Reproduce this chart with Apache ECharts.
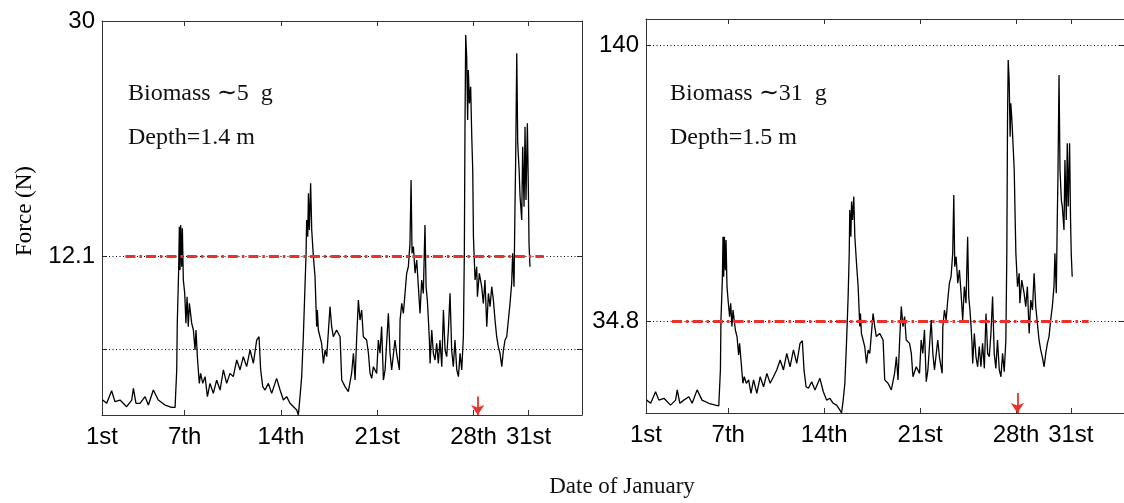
<!DOCTYPE html>
<html>
<head>
<meta charset="utf-8">
<script src="https://cdn.jsdelivr.net/npm/echarts@6/dist/echarts.min.js"></script>
<style>
  html, body { margin: 0; padding: 0; background: #fff; }
  #chart { width: 1124px; height: 503px; }
</style>
</head>
<body>
<div id="chart"></div>
<script>
// Elapsed days since 1 January (0 = 1st) and their tick labels
const tickDays = [0, 6, 13, 20, 27, 31];
const tickLabels = ['1st', '7th', '14th', '21st', '28th', '31st'];

// Sample times (days since 1st), shared by both records
const days = [
  0.05, 0.34, 0.70, 0.94, 1.31, 1.79, 2.16, 2.28, 2.47, 2.76,
  3.13, 3.37, 3.73, 4.09, 4.58, 5.06, 5.31, 5.43, 5.47, 5.57,
  5.62, 5.67, 5.72, 5.79, 5.84, 5.91, 6.01, 6.10, 6.18, 6.27,
  6.35, 6.52, 6.64, 6.76, 6.83, 6.93, 7.07, 7.17, 7.32, 7.49,
  7.66, 7.85, 8.09, 8.33, 8.58, 8.82, 9.06, 9.30, 9.54, 9.79,
  10.03, 10.27, 10.51, 10.76, 11.00, 11.24, 11.41, 11.53, 11.68, 11.85,
  12.09, 12.33, 12.69, 12.94, 13.18, 13.42, 13.66, 13.91, 14.15, 14.27,
  14.39, 14.51, 14.63, 14.75, 14.83, 14.87, 14.95, 15.00, 15.07, 15.16,
  15.24, 15.36, 15.48, 15.60, 15.65, 15.72, 15.84, 15.96, 16.09, 16.21,
  16.33, 16.57, 16.69, 16.81, 17.05,
  17.30, 17.42, 17.66, 17.90, 18.14, 18.27, 18.39, 18.51, 18.63, 18.75,
  18.87, 18.99, 19.23, 19.36, 19.48, 19.60, 19.72, 19.96, 20.08, 20.20,
  20.32, 20.45, 20.57, 20.81, 20.93, 21.05, 21.17, 21.29, 21.41, 21.61,
  21.66, 21.78, 21.90, 22.02, 22.14, 22.26, 22.38, 22.46, 22.53, 22.63,
  22.75, 22.87, 22.99, 23.11, 23.23, 23.35, 23.47, 23.55, 23.64, 23.72,
  23.79, 23.84, 23.96, 24.08, 24.20, 24.32, 24.44, 24.56, 24.69, 24.81,
  24.93, 25.05, 25.17, 25.29, 25.41, 25.53, 25.65, 25.78, 25.90, 26.02,
  26.14, 26.26, 26.33, 26.38, 26.43, 26.50, 26.57, 26.62, 26.70, 26.79,
  26.87, 26.94, 26.99, 27.11, 27.23, 27.28, 27.42, 27.59, 27.71, 27.83,
  27.96, 28.08, 28.20, 28.32, 28.44, 28.56, 28.68, 28.80, 28.92, 29.05,
  29.17, 29.29, 29.41, 29.53, 29.65, 29.77, 29.84, 29.94, 30.01, 30.06,
  30.14, 30.21, 30.31, 30.38, 30.50, 30.57, 30.67, 30.74, 30.81, 30.91,
  30.98, 31.03, 31.10
];

// Force (N), biomass ~5 g, depth 1.4 m
const forceSmall = [
  1.14, 0.89, 1.85, 1.02, 1.14, 0.63, 1.14, 2.03, 0.89, 0.89,
  1.40, 0.76, 1.90, 1.14, 0.76, 0.58, 0.58, 3.43, 6.98, 11.04,
  14.34, 11.04, 14.47, 11.29, 14.21, 10.28, 9.26, 6.98, 9.01, 6.73,
  8.50, 6.98, 6.47, 4.95, 6.47, 4.44, 2.41, 3.17, 2.41, 2.92,
  1.40, 2.41, 1.65, 2.66, 1.90, 3.43, 2.41, 3.17, 2.92, 4.19,
  3.43, 4.44, 3.68, 4.95, 3.93, 5.71, 5.96, 3.43, 2.16, 1.90,
  2.41, 1.65, 2.79, 1.90, 1.14, 1.40, 0.89, 0.63, 0.38, 0.00,
  1.40, 2.92, 5.96, 9.77, 12.31, 14.85, 13.58, 16.88, 14.09, 17.64,
  14.09, 12.06, 10.53, 6.73, 7.99, 6.47, 5.96, 5.46, 3.93, 4.95,
  4.44, 8.25, 6.73, 5.96, 6.47,
  5.96, 2.66, 2.16, 1.78, 3.17, 4.70, 2.66, 5.96, 8.76, 7.23,
  7.99, 5.96, 5.71, 4.70, 3.17, 2.79, 3.68, 3.17, 5.71, 4.70,
  6.73, 2.66, 3.43, 7.74, 4.70, 3.43, 3.43, 5.71, 4.70, 3.43,
  7.23, 8.50, 7.74, 9.26, 10.79, 11.29, 13.07, 17.89, 12.31, 12.82,
  10.79, 11.80, 9.77, 7.74, 10.28, 9.26, 14.47, 9.77, 8.76, 7.23,
  5.71, 3.93, 6.47, 4.70, 4.19, 5.46, 3.93, 5.71, 3.68, 7.99,
  4.95, 4.44, 6.47, 9.26, 4.95, 3.68, 5.71, 3.43, 2.92, 4.70,
  3.43, 5.96, 12.31, 22.46, 28.93, 27.28, 22.46, 26.27, 23.73, 25.00,
  21.19, 18.65, 13.58, 10.28, 11.29, 9.01, 10.79, 9.77, 8.50, 10.28,
  6.73, 9.26, 8.25, 9.77, 8.76, 7.23, 5.96, 5.20, 4.70, 3.68,
  4.95, 5.71, 5.96, 7.23, 8.50, 10.03, 12.31, 9.77, 15.86, 19.42,
  27.54, 20.68, 18.65, 16.62, 14.85, 20.43, 15.86, 21.95, 16.37, 22.21,
  17.39, 13.07, 11.29
];

// Force (N), biomass ~31 g, depth 1.5 m
const forceLarge = [
  4.9, 3.7, 8.1, 4.9, 5.6, 3.0, 4.9, 8.8, 3.7, 4.9,
  6.2, 3.7, 8.8, 4.9, 3.7, 3.0, 2.7, 16.4, 35.4, 50.6,
  67.1, 51.9, 67.1, 54.4, 65.9, 48.1, 41.8, 36.7, 41.8, 32.9,
  39.2, 31.6, 29.1, 22.1, 26.5, 20.2, 11.3, 13.8, 11.3, 12.6,
  7.5, 12.6, 7.5, 13.8, 10.0, 15.1, 11.3, 13.8, 16.4, 20.2,
  16.4, 22.7, 17.6, 24.0, 18.9, 26.5, 27.5, 16.4, 10.0, 9.4,
  11.9, 8.8, 13.2, 8.1, 4.9, 5.6, 3.7, 3.0, 1.1, 0.0,
  4.9, 11.3, 26.5, 44.3, 60.8, 77.3, 67.1, 80.5, 73.5, 82.4,
  67.1, 57.0, 48.1, 32.9, 37.9, 30.3, 27.8, 25.3, 18.9, 24.0,
  22.7, 37.9, 32.9, 29.1, 30.3,
  27.8, 12.6, 11.3, 8.8, 15.1, 21.4, 12.6, 27.8, 40.5, 32.9,
  36.7, 27.8, 26.5, 22.7, 13.8, 13.2, 17.6, 15.1, 27.8, 22.7,
  31.6, 11.9, 16.4, 35.4, 22.7, 16.4, 15.7, 27.8, 21.4, 15.1,
  32.9, 39.2, 35.4, 43.0, 49.4, 51.9, 60.8, 83.0, 55.7, 59.5,
  49.4, 54.4, 45.6, 35.4, 48.1, 41.8, 67.1, 44.3, 39.2, 32.9,
  26.5, 18.9, 30.3, 21.4, 17.6, 25.3, 17.6, 26.5, 17.0, 37.9,
  22.7, 21.4, 30.3, 44.3, 22.7, 17.0, 27.8, 16.4, 13.8, 22.7,
  15.7, 27.8, 60.8, 111.5, 134.4, 126.8, 105.2, 117.9, 111.5, 111.5,
  92.5, 73.5, 60.8, 48.1, 53.2, 41.8, 50.6, 45.6, 40.5, 48.1,
  30.3, 43.0, 39.2, 53.2, 40.5, 34.1, 27.8, 24.0, 21.4, 17.6,
  22.7, 26.5, 29.1, 35.4, 40.5, 48.1, 60.8, 45.6, 73.5, 90.0,
  128.7, 92.5, 81.1, 78.6, 69.7, 96.3, 73.5, 102.7, 78.6, 102.7,
  73.5, 60.8, 51.9
];

// Per-panel settings
const yMax = [30, 150];
const yTicks = [[5, 12.1, 30], [34.8, 140]];
const yLabels = [[12.1, 30], [34.8, 140]];
const thresholds = [12.1, 34.8];
const thresholdSpan = [[1.7, 32.1], [1.9, 32.3]];
const markerDay = [27.3, 27.1];
const markerTop = [1.4, 7.6];
const biomassText = ['Biomass \u223C5  g', 'Biomass \u223C31  g'];
const depthText = ['Depth=1.4 m', 'Depth=1.5 m'];

const gridBoxes = [
  { left: 102, top: 21, width: 480, height: 394 },
  { left: 646, top: 19, width: 480, height: 394 }
];
const dayMax = 34.88;

const tickFont = { fontFamily: 'Liberation Sans, Arial, sans-serif', fontSize: 24, color: '#000' };
const frameColor = '#333';
const red = '#e8322b';

const xAxes = [];
const yAxes = [];
const series = [];

[0, 1].forEach(function (p) {
  const labelFmt = function (v) {
    const i = tickDays.indexOf(v);
    return i >= 0 ? tickLabels[i] : '';
  };
  xAxes.push({
    gridIndex: p, type: 'value', position: 'bottom', min: 0, max: dayMax,
    axisLine: { show: true, onZero: false, lineStyle: { color: frameColor, width: 1 } },
    axisTick: { show: true, inside: true, length: 5, customValues: tickDays, lineStyle: { color: frameColor } },
    axisLabel: Object.assign({ customValues: tickDays, formatter: labelFmt, margin: 10 }, tickFont),
    splitLine: { show: false }
  });
  xAxes.push({
    gridIndex: p, type: 'value', position: 'top', min: 0, max: dayMax,
    axisLine: { show: true, onZero: false, lineStyle: { color: frameColor, width: 1 } },
    axisTick: { show: true, inside: true, length: 5, customValues: tickDays, lineStyle: { color: frameColor } },
    axisLabel: { show: false },
    splitLine: { show: false }
  });
  const yLeft = {
    gridIndex: p, type: 'value', position: 'left', min: 0, max: yMax[p],
    axisLine: { show: true, onZero: false, lineStyle: { color: frameColor, width: 1 } },
    axisTick: { show: true, inside: true, length: 5, customValues: yTicks[p], lineStyle: { color: frameColor } },
    axisLabel: Object.assign({ customValues: yLabels[p], margin: 7 }, tickFont),
    splitLine: { show: false }
  };
  if (p === 0) {
    yLeft.name = 'Force (N)';
    yLeft.nameLocation = 'middle';
    yLeft.nameRotate = 90;
    yLeft.nameGap = 66;
    yLeft.nameTextStyle = { fontFamily: 'Liberation Serif, Times New Roman, serif', fontSize: 23, color: '#000', padding: [0, 0, 0, 14] };
  }
  yAxes.push(yLeft);
  yAxes.push({
    gridIndex: p, type: 'value', position: 'right', min: 0, max: yMax[p],
    axisLine: { show: true, onZero: false, lineStyle: { color: frameColor, width: 1 } },
    axisTick: { show: true, inside: true, length: 5, customValues: yTicks[p], lineStyle: { color: frameColor } },
    axisLabel: { show: false },
    splitLine: { show: false }
  });

  const xi = p * 2;
  const yi = p * 2;
  const values = p === 0 ? forceSmall : forceLarge;

  // dotted reference lines at the labelled force levels
  series.push({
    type: 'line', xAxisIndex: xi, yAxisIndex: yi, data: [], z: 1, silent: true,
    markLine: {
      silent: true, symbol: ['none', 'none'], label: { show: false }, animation: false,
      lineStyle: { color: '#000', width: 1, type: [1, 2.5] },
      data: yTicks[p].filter(function (v) { return v < yMax[p]; }).map(function (v) { return { yAxis: v }; })
    }
  });

  // force record
  series.push({
    type: 'line', xAxisIndex: xi, yAxisIndex: yi, z: 2, silent: true,
    showSymbol: false, symbol: 'none',
    lineStyle: { color: '#000', width: 1.3 },
    data: days.map(function (d, i) { return [d, values[i]]; })
  });

  // threshold line and the marker arrow on the time axis
  series.push({
    type: 'line', xAxisIndex: xi, yAxisIndex: yi, data: [], z: 3, silent: true,
    markLine: {
      silent: true, label: { show: false }, animation: false,
      data: [
        [
          { coord: [thresholdSpan[p][0], thresholds[p]], symbol: 'none', lineStyle: { color: red, width: 3, type: [10, 4, 2.5, 4] } },
          { coord: [thresholdSpan[p][1], thresholds[p]], symbol: 'none' }
        ],
        [
          { coord: [markerDay[p], markerTop[p]], symbol: 'none', lineStyle: { color: red, width: 1.8, type: 'solid' } },
          { coord: [markerDay[p], 0], symbol: 'arrow', symbolSize: [10, 10] }
        ]
      ]
    }
  });
});

const textFont = 'Liberation Serif, Times New Roman, serif';
const graphic = [];
[0, 1].forEach(function (p) {
  const x0 = p === 0 ? 128 : 670;
  graphic.push({
    type: 'text', left: x0, top: 82,
    style: { text: biomassText[p], font: '24px ' + textFont, fill: '#111' }
  });
  graphic.push({
    type: 'text', left: x0, top: 126,
    style: { text: depthText[p], font: '24px ' + textFont, fill: '#111' }
  });
});
graphic.push({
  type: 'text', x: 622, y: 487,
  style: { text: 'Date of January', font: '23px ' + textFont, fill: '#111', align: 'center', verticalAlign: 'middle' }
});

const chart = echarts.init(document.getElementById('chart'), null, { renderer: 'canvas' });
chart.setOption({
  animation: false,
  backgroundColor: '#fff',
  grid: gridBoxes.map(function (g) { return Object.assign({ containLabel: false }, g); }),
  xAxis: xAxes,
  yAxis: yAxes,
  series: series,
  graphic: graphic
});
</script>
</body>
</html>
